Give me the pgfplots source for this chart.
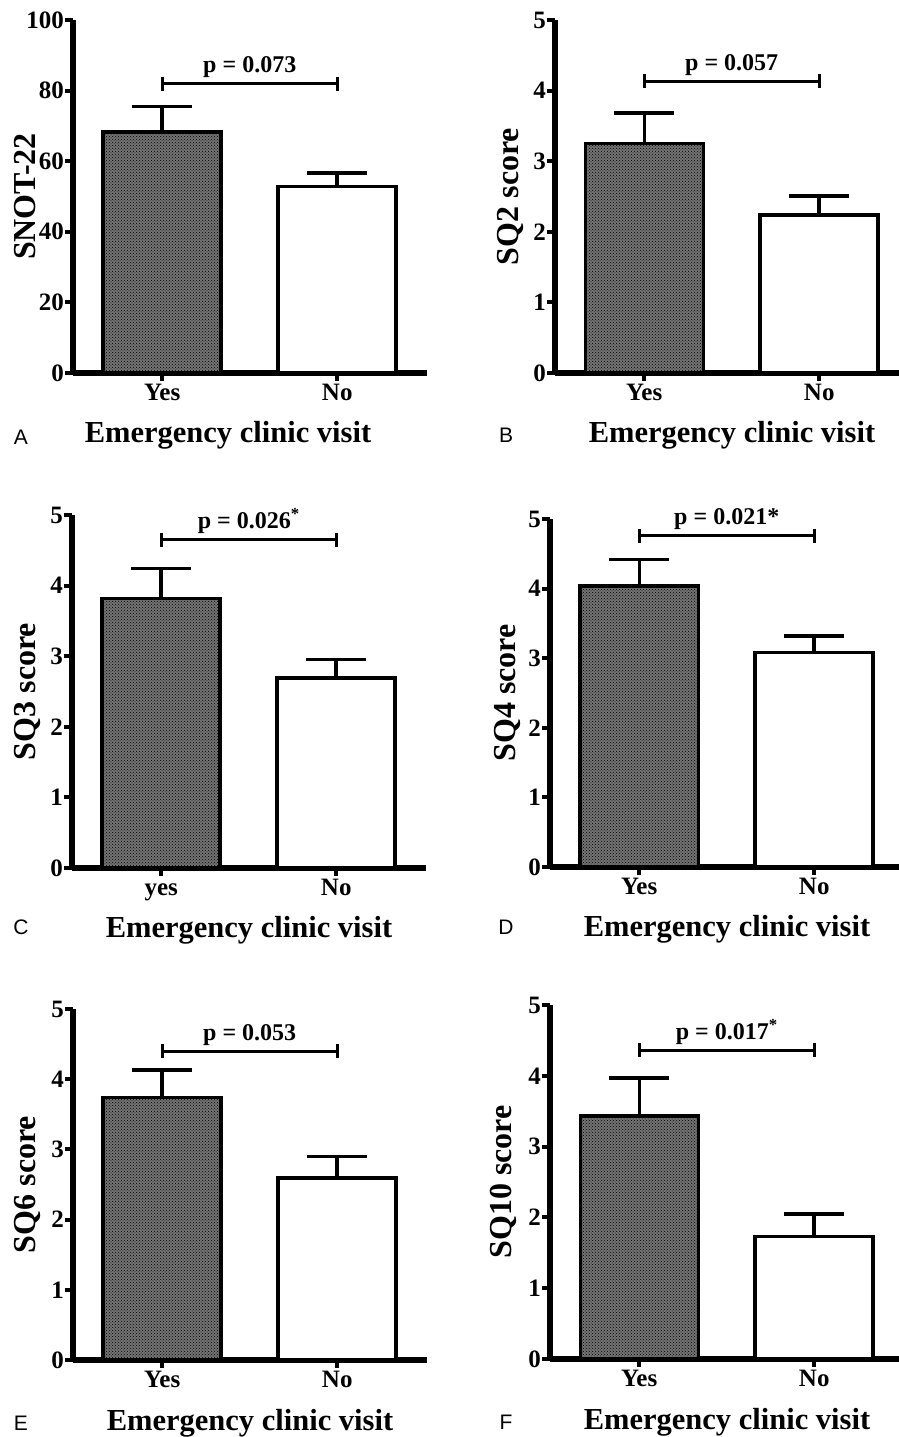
\documentclass[border=0pt]{standalone}
\usepackage{fontspec}
\setmainfont{Liberation Serif}
\newfontfamily\sansf{Liberation Sans}
\usepackage{pgfplots}
\pgfplotsset{compat=1.18}
\usetikzlibrary{patterns}
\tikzset{pval/.style={anchor=base, yshift=11pt, font=\bfseries\fontsize{24}{24}\selectfont}}
\pgfplotsset{
 panel/.style={
  scale only axis, width=354pt,
  xmin=-0.51, xmax=1.513, ymin=0,
  axis lines*=left,
  x axis line style={line width=6pt, -},
  y axis line style={line width=6pt, -},
  xtick={0,1}, xticklabels={Yes,No},
  tick align=outside, major tick length=8pt,
  tick style={line width=4pt, black},
  ticklabel style={font=\bfseries\fontsize{25}{25}\selectfont},
  /pgf/number format/assume math mode=true,
  yticklabel style={inner xsep=1pt},
  xticklabel style={inner ysep=3pt, text height=16pt, text depth=5pt},
  every axis y label/.style={at={(axis description cs:0,0.5)}, anchor=center, font=\bfseries\fontsize{32}{32}\selectfont},
  every axis x label/.style={at={(axis description cs:0.5,0)}, anchor=base, yshift=-70pt, font=\bfseries\fontsize{30.5}{30.5}\selectfont},
  xlabel={Emergency clinic visit},
  ybar, bar width=118pt, bar shift=0pt,
  clip=false,
 },
 yesbar/.style={draw=black, line width=3.5pt, fill=black!55, postaction={pattern=crosshatch dots, pattern color=black},
   error bars/.cd, y dir=plus, y explicit, error mark=|, error bar style={line width=3.5pt, black}, error mark options={line width=3.5pt, mark size=30pt, black}},
 nobar/.style={draw=black, line width=3.5pt, fill=white,
   error bars/.cd, y dir=plus, y explicit, error mark=|, error bar style={line width=3.5pt, black}, error mark options={line width=3.5pt, mark size=30pt, black}},
 bracket/.style={sharp plot, black, line width=3pt, mark=|, mark size=7pt, mark options={line width=3pt}},
}
\begin{document}
\begin{tikzpicture}
\path[use as bounding box] (0,0) rectangle (899pt,1437pt);
% A
\begin{axis}[panel, at={(73pt,1064pt)}, anchor=south west, height=353pt, ymax=100, ytick={0,20,40,60,80,100},
  ylabel={SNOT-22}, ylabel style={xshift=-48pt, rotate=90}, xlabel style={xshift=-22pt}]
\addplot[yesbar] coordinates {(0,68.3) +- (0,7.2)};
\addplot[nobar] coordinates {(1,52.8) +- (0,3.8)};
\addplot[bracket] coordinates {(0,82) (1,82)};
\node[pval] at (axis cs:0.5,82) {p = 0.073};
\end{axis}
% B
\begin{axis}[panel, at={(555pt,1064pt)}, anchor=south west, height=353pt, ymax=5, ytick={0,1,2,3,4,5},
  ylabel={SQ2 score}, ylabel style={xshift=-45pt, rotate=90}]
\addplot[yesbar] coordinates {(0,3.25) +- (0,0.43)};
\addplot[nobar] coordinates {(1,2.24) +- (0,0.27)};
\addplot[bracket] coordinates {(0,4.13) (1,4.13)};
\node[pval] at (axis cs:0.5,4.13) {p = 0.057};
\end{axis}
% C
\begin{axis}[panel, at={(72pt,569pt)}, anchor=south west, height=353pt, ymax=5, ytick={0,1,2,3,4,5},
  xticklabels={yes,No}, ylabel={SQ3 score}, ylabel style={xshift=-44pt, rotate=90}]
\addplot[yesbar] coordinates {(0,3.82) +- (0,0.42)};
\addplot[nobar] coordinates {(1,2.69) +- (0,0.26)};
\addplot[bracket] coordinates {(0,4.65) (1,4.65)};
\node[pval] at (axis cs:0.5,4.65) {p = 0.026\textsuperscript{*}};
\end{axis}
% D
\begin{axis}[panel, at={(550pt,570pt)}, anchor=south west, height=348pt, ymax=5, ytick={0,1,2,3,4,5},
  ylabel={SQ4 score}, ylabel style={xshift=-43pt, rotate=90}]
\addplot[yesbar] coordinates {(0,4.04) +- (0,0.38)};
\addplot[nobar] coordinates {(1,3.08) +- (0,0.24)};
\addplot[bracket] coordinates {(0,4.76) (1,4.76)};
\node[pval] at (axis cs:0.5,4.76) {p = 0.021*};
\end{axis}
% E
\begin{axis}[panel, at={(73pt,77pt)}, anchor=south west, height=351pt, ymax=5, ytick={0,1,2,3,4,5},
  ylabel={SQ6 score}, ylabel style={xshift=-45pt, rotate=90}]
\addplot[yesbar] coordinates {(0,3.74) +- (0,0.39)};
\addplot[nobar] coordinates {(1,2.59) +- (0,0.31)};
\addplot[bracket] coordinates {(0,4.40) (1,4.40)};
\node[pval] at (axis cs:0.5,4.40) {p = 0.053};
\end{axis}
% F
\begin{axis}[panel, at={(550pt,78pt)}, anchor=south west, height=354pt, ymax=5, ytick={0,1,2,3,4,5},
  ylabel={SQ10 score}, ylabel style={xshift=-47pt, rotate=90}]
\addplot[yesbar] coordinates {(0,3.43) +- (0,0.54)};
\addplot[nobar] coordinates {(1,1.73) +- (0,0.32)};
\addplot[bracket] coordinates {(0,4.36) (1,4.36)};
\node[pval] at (axis cs:0.5,4.36) {p = 0.017\textsuperscript{*}};
\end{axis}
% panel letters
\begin{scope}[every node/.style={inner sep=0pt, font=\sansf\fontsize{21}{21}\selectfont}]
\node at (21pt,1000pt) {A};
\node at (506pt,1002pt) {B};
\node at (21pt,510pt) {C};
\node at (506pt,510pt) {D};
\node at (21pt,14pt) {E};
\node at (506pt,15pt) {F};
\end{scope}
\end{tikzpicture}
\end{document}
